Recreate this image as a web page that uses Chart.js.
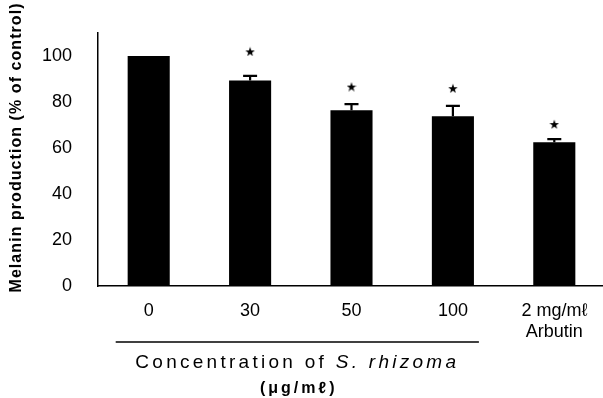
<!DOCTYPE html>
<html><head><meta charset="utf-8">
<script src="https://cdn.jsdelivr.net/npm/chart.js@4"></script>
<style>html,body{margin:0;padding:0;background:#fff}#wrap{width:603px;height:398px}</style>
</head><body><div id="wrap"><canvas id="c" width="603" height="398"></canvas></div>
<script>
const categories = [['0'], ['30'], ['50'], ['100'], ['2 mg/mℓ', 'Arbutin']];
const melanin = [100, 89.3, 76.4, 73.8, 62.5];
const errUp = [0, 2.1, 2.7, 4.5, 1.4];
const sigStar = [null, 102, 86.7, 86, 70.4];
const yTicks = [0, 20, 40, 60, 80, 100];
const yTitle = 'Melanin production (% of control)';
const xTitleA = 'Concentration of ';
const xTitleB = 'S. rhizoma';
const xUnit = '(μg/mℓ)';

const FONT = '"Liberation Sans", Arial, "DejaVu Sans", sans-serif';
const AREA = { left: 98, top: 33, right: 605, bottom: 286 };

function starImage(size) {
  const c = document.createElement('canvas');
  c.width = size; c.height = size;
  const g = c.getContext('2d');
  g.fillStyle = '#000';
  g.beginPath();
  const r1 = size / 2, r2 = size * 0.2;
  for (let k = 0; k < 10; k++) {
    const r = k % 2 ? r2 : r1;
    const a = -Math.PI / 2 + k * Math.PI / 5;
    const px = size / 2 + r * Math.cos(a), py = size / 2 + 0.6 + r * Math.sin(a);
    k ? g.lineTo(px, py) : g.moveTo(px, py);
  }
  g.closePath();
  g.fill();
  return c;
}

function spacedText(ctx, text, target) {
  ctx.letterSpacing = '0px';
  const w = ctx.measureText(text).width;
  const n = [...text].length;
  return Math.max(0, (target - w) / n);
}

const extras = {
  id: 'extras',
  afterLayout(chart) {
    const a = chart.chartArea;
    Object.assign(a, AREA);
    a.width = a.right - a.left; a.height = a.bottom - a.top;
    const x = chart.scales.x, y = chart.scales.y;
    x.left = a.left; x.right = a.right; x.width = a.width;
    y.top = a.top; y.bottom = a.bottom; y.height = a.height;
    x.configure(); y.configure();
  },
  afterDatasetsDraw(chart) {
    const ctx = chart.ctx;
    const x = chart.scales.x, y = chart.scales.y;
    ctx.save();
    ctx.strokeStyle = '#000';
    ctx.lineWidth = 2.2;
    melanin.forEach((v, i) => {
      if (!errUp[i]) return;
      const cx = x.getPixelForValue(i);
      const y0 = y.getPixelForValue(v);
      const y1 = y.getPixelForValue(v + errUp[i]);
      ctx.beginPath();
      ctx.moveTo(cx, y0); ctx.lineTo(cx, y1);
      ctx.moveTo(cx - 7, y1); ctx.lineTo(cx + 7, y1);
      ctx.stroke();
    });
    ctx.restore();
  },
  afterDraw(chart) {
    const ctx = chart.ctx;
    const x = chart.scales.x;
    ctx.save();
    ctx.fillStyle = '#000';
    ctx.save();
    ctx.translate(17, 148);
    ctx.rotate(-Math.PI / 2);
    ctx.font = 'bold 16px ' + FONT;
    const ls = spacedText(ctx, yTitle, 290);
    ctx.letterSpacing = ls + 'px';
    ctx.textAlign = 'center';
    ctx.textBaseline = 'middle';
    ctx.fillText(yTitle, ls / 2, 0);
    ctx.restore();
    const xl = x.getPixelForValue(0) - 33;
    const xr = x.getPixelForValue(3) + 26;
    ctx.strokeStyle = '#000';
    ctx.lineWidth = 1.3;
    ctx.beginPath();
    ctx.moveTo(xl, 342); ctx.lineTo(xr, 342);
    ctx.stroke();
    const cxm = (xl + xr) / 2;
    ctx.textBaseline = 'middle';
    ctx.textAlign = 'left';
    ctx.font = '19px ' + FONT;
    ctx.letterSpacing = '0px';
    const wa = ctx.measureText(xTitleA).width;
    ctx.font = 'italic 19px ' + FONT;
    const wb = ctx.measureText(xTitleB).width;
    const n = [...xTitleA].length + [...xTitleB].length;
    const target = 324;
    const sp = (target - wa - wb) / n;
    const start = cxm - target / 2;
    ctx.letterSpacing = sp + 'px';
    ctx.font = '19px ' + FONT;
    ctx.fillText(xTitleA, start, 363);
    ctx.font = 'italic 19px ' + FONT;
    ctx.fillText(xTitleB, start + wa + sp * [...xTitleA].length, 363);
    ctx.font = 'bold 16px ' + FONT;
    ctx.letterSpacing = '3px';
    ctx.textAlign = 'center';
    ctx.fillText(xUnit, cxm + 1.5, 389);
    ctx.restore();
  }
};

new Chart(document.getElementById('c'), {
  data: {
    labels: categories,
    datasets: [
      {
        type: 'bar',
        data: melanin,
        backgroundColor: '#000',
        borderWidth: 0,
        barPercentage: 0.415,
        categoryPercentage: 1,
        order: 2
      },
      {
        type: 'line',
        data: sigStar,
        showLine: false,
        pointStyle: starImage(10),
        pointRadius: 5,
        borderColor: '#000',
        backgroundColor: '#000',
        order: 1
      }
    ]
  },
  options: {
    responsive: false,
    animation: false,
    devicePixelRatio: 1,
    layout: { padding: { top: 33, right: 0, bottom: 0, left: 0 } },
    plugins: { legend: { display: false }, tooltip: { enabled: false } },
    scales: {
      x: {
        type: 'category',
        offset: true,
        grid: { display: false, drawTicks: false },
        border: { display: true, color: '#000', width: 1.5 },
        ticks: { color: '#000', font: { size: 18, family: FONT }, padding: 14, maxRotation: 0, autoSkip: false },
        afterFit(s) { s.height = 112; }
      },
      y: {
        type: 'linear',
        min: 0, max: 110,
        grid: { display: false, drawTicks: false },
        border: { display: true, color: '#000', width: 1.5 },
        ticks: { color: '#000', font: { size: 18, family: FONT }, padding: 26 },
        afterBuildTicks(s) { s.ticks = yTicks.map(v => ({ value: v })); },
        afterFit(s) { s.width = 98; }
      }
    }
  },
  plugins: [extras]
});
</script>
</body></html>
